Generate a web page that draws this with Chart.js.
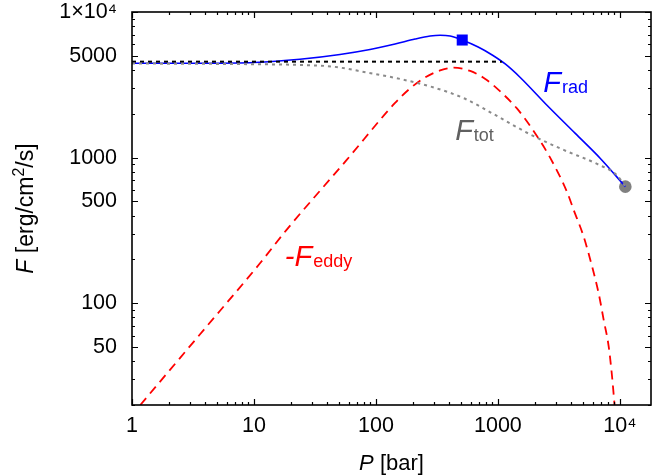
<!DOCTYPE html>
<html>
<head>
<meta charset="utf-8">
<script src="https://cdn.jsdelivr.net/npm/chart.js@4.4.1/dist/chart.umd.min.js"></script>
<style>
  html, body { margin: 0; padding: 0; background: #fff; }
  #c { display: block; }
</style>
</head>
<body>
<canvas id="c" width="655" height="476"></canvas>
<script>
// pressure P [bar] and flux F [erg/cm2/s]
const radP = [1, 3.6, 10, 23.8, 50.7, 89.4, 143.5, 209.4, 278, 336, 406, 509, 689, 898, 1148, 1525, 2445, 4310, 6918, 11090];
const radF = [4446, 4450, 4500, 4735, 5109, 5528, 6032, 6526, 6842, 6929, 6842, 6425, 5751, 5069, 4397, 3551, 2355, 1466, 987, 632];

const eddyP = [1.17, 3.6, 11.2, 18.5, 57.6, 143.5, 190.5, 253, 336, 429.5, 593, 788, 1045, 1432, 1961, 2687, 3683, 4178, 5046, 5916, 6700, 7366, 8096, 8630, 9020, 9120];
const eddyF = [20, 61, 188, 319, 964, 2374, 2985, 3551, 3967, 4147, 3936, 3469, 2847, 2176, 1525, 995, 582, 438, 287, 179, 117, 76.9, 50.5, 31.4, 20.6, 18.5];

const totP = [1, 10, 23.8, 44.4, 84, 157.5, 278, 519, 982, 1841, 3457, 6501, 9486, 11090];
const totF = [4430, 4380, 4327, 4214, 3844, 3470, 3082, 2569, 1933, 1443, 1129, 905, 755, 632];

const refP = [1, 1078];
const refF = [4560, 4560];

const squareP = [510];
const squareF = [6420];
const circleP = [11090];
const circleF = [632];

const xTicks = [1, 10, 100, 1000, 10000];
const xLabels = ['1', '10', '100', '1000', '10⁴'];
const yTicks = [50, 100, 500, 1000, 5000, 10000];
const yLabels = ['50', '100', '500', '1000', '5000', '1×10⁴'];

const FONT = '"Liberation Sans", Arial, Helvetica, sans-serif';

function pts(xs, ys) {
  return xs.map((x, i) => ({ x: x, y: ys[i] }));
}

// frame with inward ticks on all four sides, plus titles and curve labels
const decor = {
  id: 'decor',
  afterDraw(chart) {
    const ctx = chart.ctx;
    const a = chart.chartArea;
    const xs = chart.scales.x, ys = chart.scales.y;
    ctx.save();
    ctx.strokeStyle = '#000';
    ctx.lineWidth = 1.2;

    const xMin = xs.min, xMax = xs.max, yMin = ys.min, yMax = ys.max;
    for (let d = 1; d <= 10000; d *= 10) {
      for (let m = 1; m <= 9; m++) {
        const v = d * m;
        if (v < xMin || v > xMax) continue;
        const px = Math.round(xs.getPixelForValue(v)) + 0.5;
        const len = xTicks.includes(v) ? 6 : 3;
        ctx.beginPath();
        ctx.moveTo(px, a.bottom); ctx.lineTo(px, a.bottom - len);
        ctx.moveTo(px, a.top); ctx.lineTo(px, a.top + len);
        ctx.stroke();
      }
    }
    for (let d = 10; d <= 10000; d *= 10) {
      for (let m = 1; m <= 9; m++) {
        const v = d * m;
        if (v < yMin || v > yMax) continue;
        const py = Math.round(ys.getPixelForValue(v)) + 0.5;
        const len = yTicks.includes(v) ? 6 : 3;
        ctx.beginPath();
        ctx.moveTo(a.left, py); ctx.lineTo(a.left + len, py);
        ctx.moveTo(a.right, py); ctx.lineTo(a.right - len, py);
        ctx.stroke();
      }
    }
    ctx.lineWidth = 1.6;
    ctx.strokeRect(a.left, a.top, a.right - a.left, a.bottom - a.top);

    // axis titles
    ctx.fillStyle = '#000';
    ctx.textBaseline = 'alphabetic';
    const parts = (list) => list.map(p => { ctx.font = p.f; return Object.assign({ w: ctx.measureText(p.t).width }, p); });
    const drawParts = (list, x0, y0) => {
      let x = x0;
      list.forEach(p => { ctx.font = p.f; ctx.fillText(p.t, x, y0 + (p.dy || 0)); x += p.w; });
    };
    const reg = '22px ' + FONT, ita = 'italic 22px ' + FONT;

    let xt = parts([{ t: 'P', f: ita }, { t: ' [bar]', f: reg }]);
    let w = xt.reduce((s, p) => s + p.w, 0);
    drawParts(xt, (a.left + a.right) / 2 - w / 2, 470);

    const reg2 = '23px ' + FONT, ita2 = 'italic 23px ' + FONT;
    let yt = parts([{ t: 'F', f: ita2 }, { t: ' [erg/cm', f: reg2 }, { t: '2', f: '16px ' + FONT, dy: -9 }, { t: '/s]', f: reg2 }]);
    w = yt.reduce((s, p) => s + p.w, 0);
    ctx.save();
    ctx.translate(33, (a.top + a.bottom) / 2);
    ctx.rotate(-Math.PI / 2);
    drawParts(yt, -w / 2, 0);
    ctx.restore();

    // curve labels, anchored in data units
    const labels = [
      { main: 'F', sub: 'rad', p: 2355, f: 2825, color: '#0000ff' },
      { main: 'F', sub: 'tot', p: 446, f: 1323, color: '#606060' },
      { main: '-F', sub: 'eddy', p: 17.9, f: 180.6, color: '#ff0000' }
    ];
    labels.forEach(l => {
      const lx = xs.getPixelForValue(l.p), ly = ys.getPixelForValue(l.f);
      ctx.fillStyle = l.color;
      ctx.font = 'italic 29px ' + FONT;
      ctx.fillText(l.main, lx, ly);
      const mw = ctx.measureText(l.main).width;
      ctx.font = '18px ' + FONT;
      ctx.fillText(l.sub, lx + mw + 1, ly + 1.5);
    });
    ctx.restore();
  }
};

new Chart(document.getElementById('c'), {
  type: 'line',
  data: {
    datasets: [
      {
        label: 'F_tot',
        data: pts(totP, totF),
        borderColor: '#8a8a8a',
        borderWidth: 2,
        borderDash: [3, 4],
        pointRadius: 0,
        cubicInterpolationMode: 'monotone',
        fill: false
      },
      {
        label: 'reference',
        data: pts(refP, refF),
        borderColor: '#000',
        borderWidth: 2,
        borderDash: [4, 4],
        pointRadius: 0,
        fill: false
      },
      {
        label: 'F_rad',
        data: pts(radP, radF),
        borderColor: '#0000ff',
        borderWidth: 1.6,
        pointRadius: 0,
        cubicInterpolationMode: 'monotone',
        fill: false
      },
      {
        label: '-F_eddy',
        data: pts(eddyP, eddyF),
        borderColor: '#ff0000',
        borderWidth: 1.8,
        borderDash: [9, 6],
        pointRadius: 0,
        cubicInterpolationMode: 'monotone',
        fill: false
      },
      {
        label: 'square',
        data: pts(squareP, squareF),
        showLine: false,
        pointStyle: 'rect',
        pointRadius: 7.8,
        pointBackgroundColor: '#0000ff',
        pointBorderColor: '#0000ff',
        pointBorderWidth: 0
      },
      {
        label: 'circle',
        data: pts(circleP, circleF),
        showLine: false,
        pointStyle: 'circle',
        pointRadius: 6.3,
        pointBackgroundColor: '#808080',
        pointBorderColor: '#808080',
        pointBorderWidth: 0
      }
    ]
  },
  options: {
    responsive: false,
    animation: false,
    layout: { autoPadding: false, padding: { top: 12, right: 4, left: 0, bottom: 0 } },
    plugins: { legend: { display: false }, tooltip: { enabled: false } },
    scales: {
      x: {
        type: 'logarithmic',
        min: 1,
        max: 18000,
        afterBuildTicks: s => { s.ticks = xTicks.map(v => ({ value: v })); },
        afterFit: s => { s.height = 71; s.paddingLeft = 0; s.paddingRight = 0; },
        grid: { display: false, drawTicks: false },
        border: { display: false },
        ticks: {
          autoSkip: false,
          maxRotation: 0,
          padding: 8,
          color: '#000',
          font: { family: FONT, size: 21.5 },
          callback: (v, i) => xLabels[i]
        }
      },
      y: {
        type: 'logarithmic',
        min: 20,
        max: 10000,
        afterBuildTicks: s => { s.ticks = yTicks.map(v => ({ value: v })); },
        afterFit: s => { s.width = 132; s.paddingTop = 0; s.paddingBottom = 0; },
        grid: { display: false, drawTicks: false },
        border: { display: false },
        ticks: {
          autoSkip: false,
          padding: 15,
          color: '#000',
          font: { family: FONT, size: 21.5 },
          callback: (v, i) => yLabels[i]
        }
      }
    }
  },
  plugins: [decor]
});
</script>
</body>
</html>
